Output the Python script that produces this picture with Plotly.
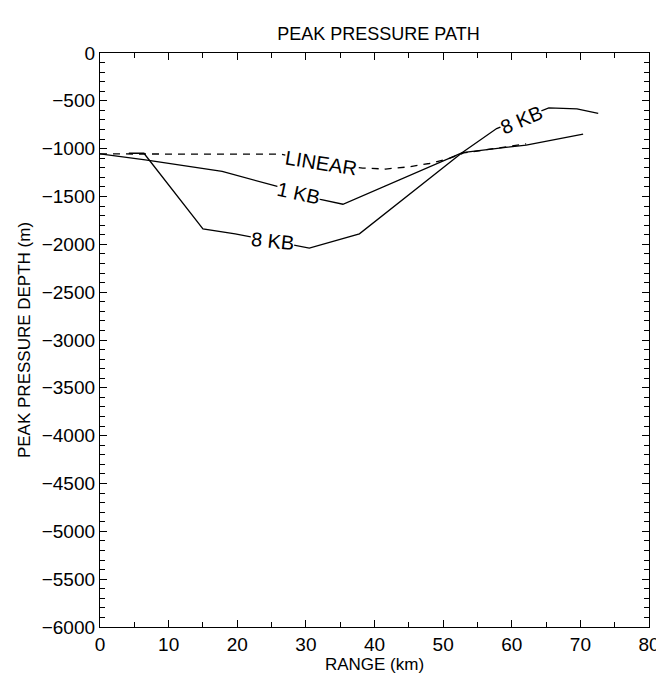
import plotly.graph_objects as go

# 1 KB path
kb1_x = [0, 6.6, 17.8, 25.7, 32.1, 35.4, 52.8, 62.1, 70.4]
kb1_y = [-1055, -1117, -1237, -1392, -1529, -1581, -1041, -962, -849]

# 8 KB path
kb8_x = [4.2, 6.4, 15.0, 19.7, 30.5, 37.8, 52.8, 57.8, 65.4, 69.5, 72.6]
kb8_y = [-1048, -1048, -1838, -1890, -2040, -1890, -1041, -790, -574, -585, -630]

# Linear path (dashed)
lin_x = [0, 26.4, 32.0, 38.3, 41.6, 45.0, 48.0, 51.0, 53.0, 62.1]
lin_y = [-1055, -1058, -1150, -1203, -1213, -1190, -1155, -1100, -1045, -950]

# Labels on the curves
lab_text = ["LINEAR", "1 KB", "8 KB", "8 KB"]
lab_x = [32.2, 28.9, 25.2, 61.4]
lab_y = [-1151, -1462, -1965, -704]
lab_ang = [9, 12, 6, -23]

x_ticks = list(range(0, 81, 10))
y_ticks = list(range(-6000, 1, 500))

FONT = "Liberation Sans Narrow, Liberation Sans, Arial, sans-serif"

fig = go.Figure()
fig.add_trace(go.Scatter(x=kb1_x, y=kb1_y, mode="lines",
                         line=dict(color="black", width=1.3), showlegend=False))
fig.add_trace(go.Scatter(x=kb8_x, y=kb8_y, mode="lines",
                         line=dict(color="black", width=1.3), showlegend=False))
fig.add_trace(go.Scatter(x=lin_x, y=lin_y, mode="lines",
                         line=dict(color="black", width=1.3, dash="7px,6px"),
                         showlegend=False))

for t, xx, yy, a in zip(lab_text, lab_x, lab_y, lab_ang):
    fig.add_annotation(x=xx, y=yy, text=t, showarrow=False, textangle=a,
                       bgcolor="white", borderpad=0,
                       font=dict(family=FONT, size=20, color="black"))

axis_common = dict(
    showline=True, linecolor="black", linewidth=1.3, mirror="ticks",
    ticks="inside", ticklen=7, tickwidth=1.2, tickcolor="black",
    showgrid=False, zeroline=False,
    tickfont=dict(family=FONT, size=19, color="black"),
)

fig.update_xaxes(range=[0, 80], tickvals=x_ticks,
                 minor=dict(dtick=5, ticks="inside", ticklen=5, tickcolor="black"),
                 title=dict(text="RANGE (km)", font=dict(family=FONT, size=17, color="black"),
                            standoff=4),
                 **axis_common)
fig.update_yaxes(range=[-6000, 0], tickvals=y_ticks,
                 minor=dict(dtick=100, ticks="inside", ticklen=5, tickcolor="black"),
                 title=dict(text="PEAK PRESSURE DEPTH (m)",
                            font=dict(family=FONT, size=17, color="black"), standoff=6),
                 **axis_common)

fig.update_layout(
    width=664, height=675,
    margin=dict(l=92, r=12, t=45, b=48),
    paper_bgcolor="white", plot_bgcolor="white",
    title=dict(text="PEAK PRESSURE PATH", x=0.558, xanchor="center",
               y=0.962, yanchor="middle",
               font=dict(family=FONT, size=18, color="black")),
)

fig.write_html("out.html")
